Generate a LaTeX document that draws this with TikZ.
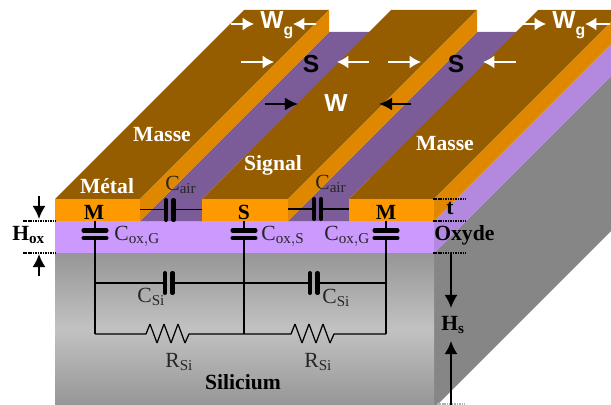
\documentclass[tikz,border=0pt]{standalone}
\usepackage{fontspec}
\setmainfont{Liberation Serif}
\setsansfont{Liberation Sans}
\usepackage{tikz}
\usetikzlibrary{calc,arrows.meta}
\definecolor{metalfront}{HTML}{FF9900}
\definecolor{metaltop}{HTML}{965C00}
\definecolor{metalside}{HTML}{E08700}
\definecolor{oxfront}{HTML}{CC99FF}
\definecolor{oxside}{HTML}{B388DF}
\definecolor{oxtop}{HTML}{7B5B98}
\definecolor{siside}{HTML}{868686}
\definecolor{siedge}{HTML}{969696}
\definecolor{silight}{HTML}{C2C2C2}
\tikzset{
	lab/.style={font=\fontsize{12.3}{14}\selectfont,inner sep=0pt,text=black!85},
	blab/.style={font=\fontsize{12.3}{14}\selectfont\bfseries,inner sep=0pt},
	slab/.style={font=\fontsize{14}{16}\selectfont\sffamily\bfseries,inner sep=0pt},
	wire/.style={line width=0.7pt,black},
	plate/.style={line width=2.3pt,black,line cap=round},
	dim/.style={-{Latex[length=7.5pt,width=7.5pt]},line width=1.1pt,black},
	wdim/.style={-{Latex[length=6.5pt,width=7.5pt]},line width=1.1pt,white},
	level/.style={dash pattern=on 0.9pt off 0.5pt,line width=1pt,black}
}
% resistor drawn from the current point, 43 wide
\newcommand{\zigzag}{-- ++(4,-10) -- ++(7,19) -- ++(7,-19) -- ++(7,19) -- ++(7,-19) -- ++(7,19) -- ++(4,-9)}
\newcommand{\wsub}[1]{\raisebox{-4pt}{\fontsize{9}{9}\selectfont #1}}
\begin{document}
\begin{tikzpicture}[x=0.02cm,y=-0.02cm]
	\useasboundingbox (0,0) rectangle (611,405);
	\clip (0,0) rectangle (611,405);
	% silicium and oxide
	\fill[siside] (434,253) -- (623,64) -- (623,219) -- (434,408) -- cycle;
	\shade[top color=siedge,bottom color=siedge,middle color=silight] (55,253) rectangle (434,405);
	\fill[oxside] (434,221) -- (623,32) -- (623,64) -- (434,253) -- cycle;
	\fill[oxfront] (55,221) rectangle (434,253);
	% gaps
	\fill[oxtop] (140,221) -- (329,32) -- (370,32) -- (202,199) -- (202,221) -- cycle;
	\fill[oxtop] (288,221) -- (477,32) -- (518,32) -- (349,199) -- (349,221) -- cycle;
	% ground and signal strips
	\foreach \xa/\xb in {55/140,202/288,349/434}{
		\fill[metaltop] (\xa,199) -- (\xb,199) -- ++(189,-189) -- (\xa+189,10) -- cycle;
		\fill[metalside] (\xb,199) -- ++(189,-189) -- ++(0,22) -- (\xb,221) -- cycle;
		\fill[metalfront] (\xa,199) rectangle (\xb,221);
	}
	% levels
	\draw[level] (23,221) -- (55,221);
	\draw[level] (23,253) -- (55,253);
	\draw[level] (433,199) -- (465,199);
	\draw[level] (433,221) -- (465,221);
	\draw[level] (433,253) -- (465,253);
	\draw[level,white!70!black] (437,404) -- (465,404);
	% named points of the circuit
	\coordinate (MG) at (95,221);
	\coordinate (MS) at (244,221);
	\coordinate (MD) at (386,221);
	\coordinate (CG) at (95,283);
	\coordinate (CS) at (244,283);
	\coordinate (CD) at (386,283);
	\coordinate (RG) at (95,334);
	\coordinate (RS) at (244,334);
	\coordinate (RD) at (386,334);
	\coordinate (AL) at (140,209.5);
	\coordinate (BL) at (202,209.5);
	\coordinate (AR) at (288,209);
	\coordinate (BR) at (349,209);
	% verticals
	\draw[wire] (MG) -- (RG) (MS) -- (RS) (MD) -- (RD);
	% oxide capacitors
	\foreach \p in {MG,MS,MD}{
		\fill[oxfront] ($(\p)+(-3,10.5)$) rectangle ($(\p)+(3,16.5)$);
		\draw[plate] ($(\p)+(-11.5,9.5)$) -- ($(\p)+(11.5,9.5)$);
		\draw[plate] ($(\p)+(-11.5,17)$) -- ($(\p)+(11.5,17)$);
	}
	% air capacitors
	\draw[wire] (AL) -- (166,209.5) (173.5,209.5) -- (BL);
	\draw[plate] (166,200) -- (166,220);
	\draw[plate] (173.5,200) -- (173.5,220);
	\draw[wire] (AR) -- (314,209) (321,209) -- (BR);
	\draw[plate] (314,199) -- (314,219);
	\draw[plate] (321,199) -- (321,219);
	% silicon capacitors
	\draw[wire] (CG) -- (165,283) (173,283) -- (CS) -- (310,283) (317,283) -- (CD);
	\draw[plate] (165,273) -- (165,293);
	\draw[plate] (172.5,273) -- (172.5,293);
	\draw[plate] (310,273) -- (310,293);
	\draw[plate] (317.5,273) -- (317.5,293);
	% silicon resistors
	\draw[wire,line join=bevel] (RG) -- (146,334) \zigzag -- (RS) -- (291,334) \zigzag -- (RD);
	% thickness arrows
	\coordinate (hoxa) at (39,196);
	\coordinate (hoxb) at (39,219);
	\coordinate (hoxc) at (39,276);
	\coordinate (hoxd) at (39,254);
	\coordinate (hsa) at (451,254);
	\coordinate (hsb) at (451,308);
	\coordinate (hsc) at (451,410);
	\coordinate (hsd) at (451,341);
	\draw[dim] (hoxa) -- (hoxb);
	\draw[dim] (hoxc) -- (hoxd);
	\draw[dim] (hsa) -- (hsb);
	\draw[dim] (hsc) -- (hsd);
	% widths
	\draw[wdim] (231,24) -- (254,24);
	\draw[wdim] (316,24) -- (293,24);
	\draw[wdim] (522,24) -- (546,24);
	\draw[wdim] (610,24) -- (585,24);
	\draw[wdim] (241,62) -- (274,62);
	\draw[wdim] (369,62) -- (337,62);
	\draw[wdim] (388,62) -- (421,62);
	\draw[wdim] (516,62) -- (483,62);
	\draw[dim] (265,104) -- (298,104);
	\draw[dim] (411,104) -- (379,104);
	% labels
	\node[blab,text=white] (metal) at (107,186) {Métal};
	\node[blab,text=white] (massea) at (162,135) {Masse};
	\node[blab,text=white] (signal) at (273,165) {Signal};
	\node[blab,text=white] (masseb) at (445,144) {Masse};
	\node[blab] (mga) at (94,212) {M};
	\node[blab] (sga) at (244,212) {S};
	\node[blab] (mgb) at (386,212) {M};
	\node[blab] (tm) at (450,209) {t};
	\node[blab,anchor=west] (oxyde) at (434,235) {Oxyde};
	\node[blab] (si) at (243,382) {Silicium};
	\node[blab,anchor=west] (hox) at (12,235) {H$_{\mathbf{ox}}$};
	\node[blab,anchor=west] (hs) at (441,325) {H$_{\mathbf{s}}$};
	\node[slab,text=white,anchor=west] (wga) at (260,25) {W\wsub{g}};
	\node[slab,text=white,anchor=west] (wgb) at (552,25) {W\wsub{g}};
	\node[slab] (sa) at (311,64) {S};
	\node[slab] (sb) at (456,64) {S};
	\node[slab,text=white] (w) at (336,103) {W};
	\node[lab,anchor=west] (cail) at (165,185) {C$_{\mathrm{air}}$};
	\node[lab,anchor=west] (cair) at (315,184) {C$_{\mathrm{air}}$};
	\node[lab,anchor=west] (coxa) at (114,236) {C$_{\mathrm{ox,G}}$};
	\node[lab,anchor=west] (coxb) at (261,236) {C$_{\mathrm{ox,S}}$};
	\node[lab,anchor=west] (coxc) at (324,236) {C$_{\mathrm{ox,G}}$};
	\node[lab,anchor=west] (csa) at (137,297) {C$_{\mathrm{Si}}$};
	\node[lab,anchor=west] (csb) at (322,298) {C$_{\mathrm{Si}}$};
	\node[lab,anchor=west] (rsa) at (165,362) {R$_{\mathrm{Si}}$};
	\node[lab,anchor=west] (rsb) at (304,362) {R$_{\mathrm{Si}}$};
\end{tikzpicture}
\end{document}
